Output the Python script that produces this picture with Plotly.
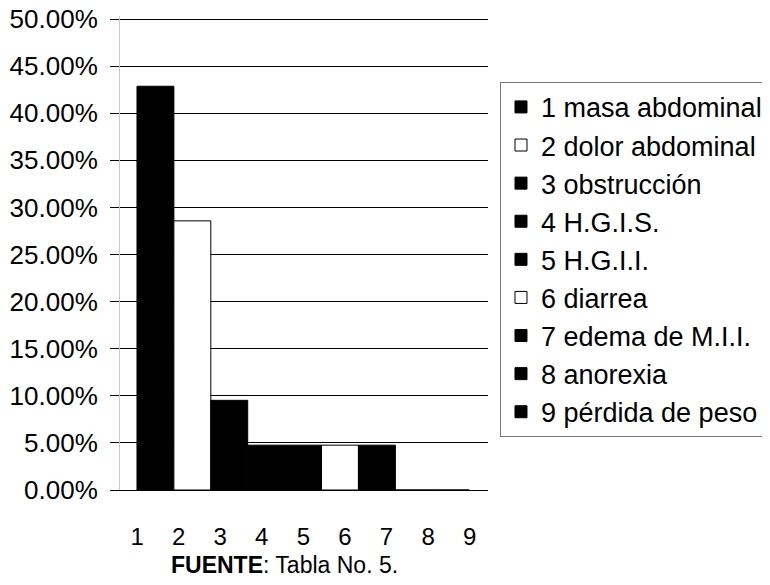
import plotly.graph_objects as go

# chart data
categories = [1, 2, 3, 4, 5, 6, 7, 8, 9]
tick_labels = ['1', '2', '3', '4', '5', '6', '7', '8', '9']
legend_names = [
    '1 masa abdominal',
    '2 dolor abdominal',
    '3 obstrucción',
    '4 H.G.I.S.',
    '5 H.G.I.I.',
    '6 diarrea',
    '7 edema de M.I.I.',
    '8 anorexia',
    '9 pérdida de peso',
]
values = [0.4286, 0.2857, 0.0952, 0.0476, 0.0476, 0.0476, 0.0476, 0.0, 0.0]
bar_colors = ['black', 'white', 'black', 'black', 'black', 'white', 'black', 'black', 'black']
y_ticks = [0, 0.05, 0.1, 0.15, 0.2, 0.25, 0.3, 0.35, 0.4, 0.45, 0.5]

FONT = 'Liberation Sans, Arial, sans-serif'

fig = go.Figure()

for cat, val, name, color in zip(categories, values, legend_names, bar_colors):
    fig.add_trace(
        go.Bar(
            x=[cat],
            y=[val],
            name=name,
            width=1,
            marker=dict(color=color, line=dict(color='black', width=1)),
            hovertemplate=name + ': %{y:.2%}<extra></extra>'
        )
    )

# invisible trace carrying the category labels on the second x axis
fig.add_trace(
    go.Scatter(
        x=categories,
        y=values,
        xaxis='x2',
        mode='markers',
        marker=dict(opacity=0),
        showlegend=False,
        hoverinfo='skip'
    )
)

fig.add_annotation(
    text='<b>FUENTE</b>: Tabla No. 5.',
    xref='paper',
    yref='paper',
    x=0.448,
    y=-0.158,
    xanchor='center',
    yanchor='middle',
    showarrow=False,
    font=dict(size=23, color='black', family=FONT)
)

# page body adds an 8px margin, so the figure is a bit smaller than the window
fig.update_layout(
    barmode='overlay',
    width=762,
    height=569,
    margin=dict(l=112, r=282, t=8, b=87, autoexpand=False),
    paper_bgcolor='white',
    plot_bgcolor='white',
    font=dict(family=FONT, color='black', size=24),
    showlegend=True,
    legend=dict(
        x=1.0326,
        y=0.861,
        xanchor='left',
        yanchor='top',
        bordercolor='#777777',
        borderwidth=1,
        bgcolor='white',
        font=dict(size=27, color='black', family=FONT),
        traceorder='normal'
    ),
    xaxis=dict(
        range=[0.04, 10.01],
        showticklabels=False,
        showgrid=False,
        zeroline=False,
        showline=True,
        linecolor='black',
        linewidth=1,
        ticks=''
    ),
    xaxis2=dict(
        overlaying='x',
        anchor='y',
        side='bottom',
        range=[0.59, 9.44],
        tickvals=categories,
        ticktext=tick_labels,
        showgrid=False,
        zeroline=False,
        showline=False,
        ticks='',
        ticklabelstandoff=30,
        tickfont=dict(size=24, color='black', family=FONT)
    ),
    yaxis=dict(
        range=[0, 0.50318],
        tickvals=y_ticks,
        tickformat='.2%',
        showgrid=True,
        gridcolor='black',
        gridwidth=1,
        zeroline=False,
        showline=True,
        linecolor='#c8c8c8',
        linewidth=1,
        ticks='outside',
        ticklen=9,
        tickcolor='black',
        ticklabelstandoff=7,
        ticklabeloverflow='allow',
        tickfont=dict(size=26, color='black', family=FONT)
    )
)

fig.write_html('out.html')
